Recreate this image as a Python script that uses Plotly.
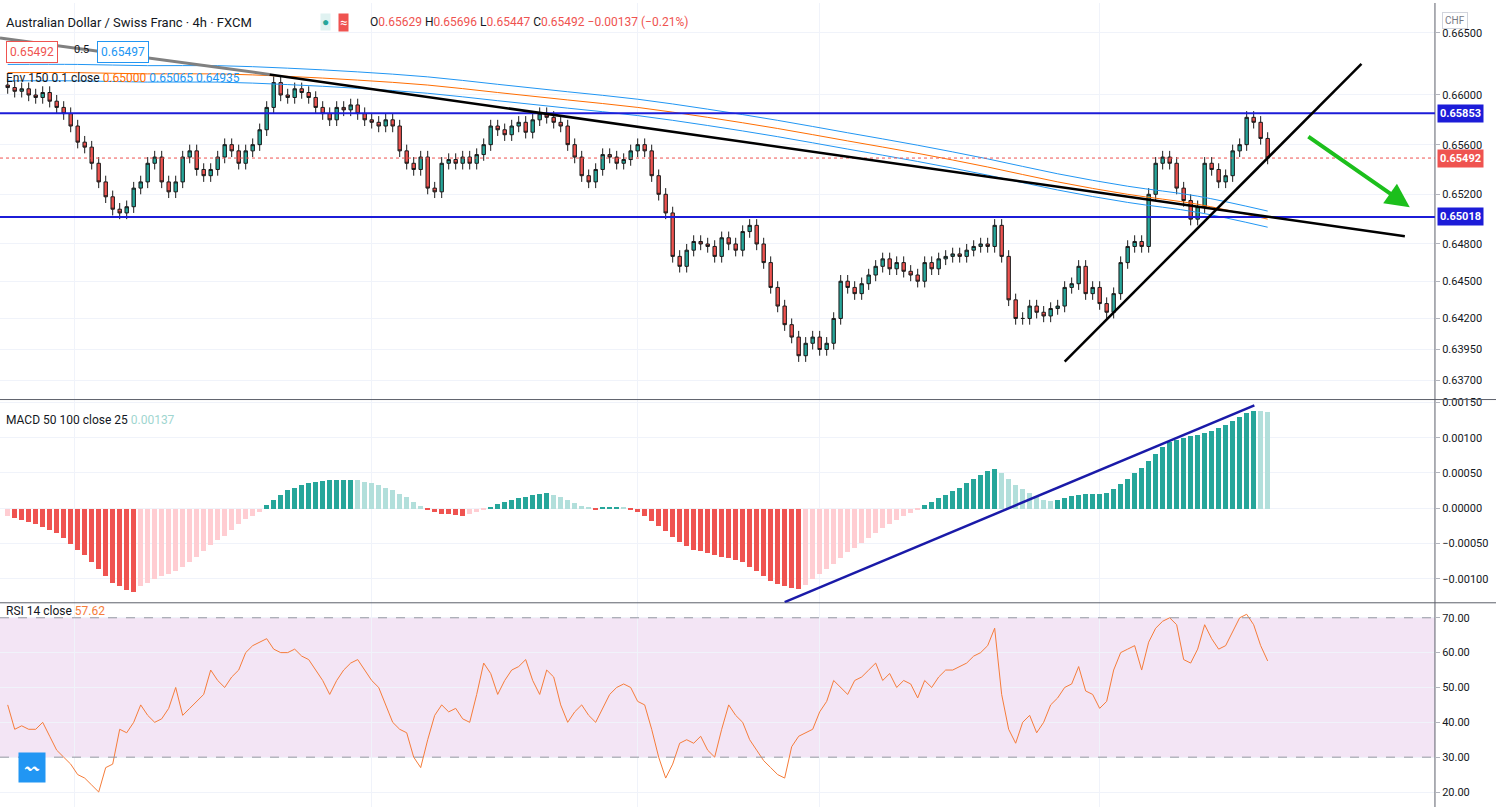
import plotly.graph_objects as go

# ---- data (4h AUD/CHF, FXCM) ----
closes = [
    0.6606, 0.6603, 0.6605, 0.6600, 0.6598, 0.6602, 0.6595, 0.6590, 0.6585, 0.6575,
    0.6562, 0.6558, 0.6545, 0.6530, 0.6518, 0.6508, 0.6505, 0.6510, 0.6525, 0.6530,
    0.6545, 0.6550, 0.6530, 0.6522, 0.6530, 0.6550, 0.6555, 0.6540, 0.6535, 0.6540,
    0.6550, 0.6560, 0.6555, 0.6545, 0.6555, 0.6560, 0.6572, 0.6590, 0.6610, 0.6600,
    0.6598, 0.6605, 0.6602, 0.6598, 0.6590, 0.6585, 0.6580, 0.6590, 0.6588, 0.6592,
    0.6585, 0.6580, 0.6578, 0.6575, 0.6580, 0.6575, 0.6555, 0.6545, 0.6540, 0.6550,
    0.6525, 0.6522, 0.6545, 0.6548, 0.6545, 0.6550, 0.6545, 0.6552, 0.6560, 0.6575,
    0.6572, 0.6568, 0.6575, 0.6578, 0.6570, 0.6580, 0.6585, 0.6582, 0.6578, 0.6575,
    0.6560, 0.6550, 0.6535, 0.6530, 0.6540, 0.6552, 0.6550, 0.6545, 0.6548, 0.6555,
    0.6560, 0.6555, 0.6535, 0.6520, 0.6505, 0.6470, 0.6462, 0.6475, 0.6482, 0.6480,
    0.6478, 0.6470, 0.6485, 0.6480, 0.6475, 0.6490, 0.6495, 0.6480, 0.6465, 0.6445,
    0.6430, 0.6415, 0.6405, 0.6390, 0.6400, 0.6405, 0.6395, 0.6400, 0.6420, 0.6450,
    0.6445, 0.6440, 0.6448, 0.6455, 0.6462, 0.6468, 0.6460, 0.6465, 0.6458, 0.6455,
    0.6450, 0.6465, 0.6460, 0.6468, 0.6470, 0.6472, 0.6470, 0.6475, 0.6478, 0.6480,
    0.6478, 0.6495, 0.6470, 0.6435, 0.6420, 0.6420, 0.6430, 0.6425, 0.6422, 0.6428,
    0.6430, 0.6445, 0.6448, 0.6462, 0.6440, 0.6445, 0.6432, 0.6425, 0.6440, 0.6465,
    0.6478, 0.6482, 0.6478, 0.6520, 0.6545, 0.6550, 0.6545, 0.6525, 0.6515, 0.6500,
    0.6510, 0.6545, 0.6540, 0.6530, 0.6535, 0.6555, 0.6560, 0.6582, 0.6578, 0.6565,
    0.65492,
]
first_open = 0.6608
wick = 0.0005

ema_idx = [0, 10, 20, 30, 40, 50, 60, 70, 80, 90, 100, 110, 120, 130, 140, 150, 160, 170, 180]
ema_vals = [0.6618, 0.6618, 0.6617, 0.6617, 0.6615, 0.6612, 0.6608, 0.6602, 0.6596, 0.6590,
            0.6582, 0.6573, 0.6563, 0.6553, 0.6542, 0.6530, 0.6520, 0.6512, 0.6500]

macd_hist = [
    -0.00010, -0.00013, -0.00016, -0.00019, -0.00022, -0.00026, -0.00030, -0.00035, -0.00042, -0.00050,
    -0.00058, -0.00066, -0.00075, -0.00085, -0.00095, -0.00105, -0.00110, -0.00115, -0.00118, -0.00110,
    -0.00105, -0.00100, -0.00095, -0.00092, -0.00088, -0.00082, -0.00075, -0.00068, -0.00060, -0.00052,
    -0.00045, -0.00038, -0.00030, -0.00022, -0.00015, -0.00010, -0.00005, 0.00005, 0.00012, 0.00020,
    0.00026, 0.00030, 0.00034, 0.00036, 0.00038, 0.00039, 0.00040, 0.00040, 0.00041, 0.00041,
    0.00040, 0.00038, 0.00036, 0.00033, 0.00030, 0.00026, 0.00021, 0.00016, 0.00010, 0.00004,
    -0.00002, -0.00005, -0.00007, -0.00008, -0.00009, -0.00010, -0.00008, -0.00004, -0.00001, 0.00003,
    0.00006, 0.00009, 0.00012, 0.00015, 0.00017, 0.00019, 0.00021, 0.00022, 0.00020, 0.00016,
    0.00012, 0.00008, 0.00004, 0.00001, -0.00001, 0.00001, 0.00002, 0.00003, 0.00001, -0.00002,
    -0.00005, -0.00010, -0.00018, -0.00025, -0.00032, -0.00040, -0.00047, -0.00053, -0.00058, -0.00060,
    -0.00063, -0.00066, -0.00068, -0.00070, -0.00072, -0.00076, -0.00082, -0.00088, -0.00095, -0.00102,
    -0.00107, -0.00110, -0.00112, -0.00114, -0.00108, -0.00100, -0.00092, -0.00085, -0.00078, -0.00070,
    -0.00062, -0.00055, -0.00048, -0.00041, -0.00035, -0.00028, -0.00022, -0.00016, -0.00010, -0.00006,
    -0.00002, 0.00005, 0.00010, 0.00015, 0.00020, 0.00025, 0.00030, 0.00036, 0.00042, 0.00048,
    0.00053, 0.00056, 0.00050, 0.00042, 0.00034, 0.00028, 0.00022, 0.00017, 0.00013, 0.00011,
    0.00012, 0.00015, 0.00018, 0.00020, 0.00021, 0.00021, 0.00021, 0.00022, 0.00028, 0.00035,
    0.00042, 0.00050, 0.00058, 0.00068, 0.00078, 0.00088, 0.00095, 0.00098, 0.00100, 0.00103,
    0.00105, 0.00107, 0.00110, 0.00114, 0.00118, 0.00124, 0.00130, 0.00135, 0.00139, 0.00138,
    0.00137,
]

rsi = [
    45, 38, 39, 38, 38, 40, 36, 32, 30, 28,
    25, 24, 22, 20, 27, 28, 38, 37, 40, 45,
    42, 40, 41, 44, 50, 42, 44, 46, 48, 55,
    52, 50, 53, 55, 60, 62, 63, 64, 61, 60,
    60, 61, 59, 58, 55, 52, 48, 52, 55, 57,
    58, 55, 52, 50, 45, 40, 38, 37, 30, 27,
    35, 42, 45, 43, 44, 41, 40, 48, 57, 54,
    48, 52, 55, 56, 58, 52, 48, 55, 53, 45,
    40, 43, 45, 42, 40, 44, 48, 50, 51, 50,
    46, 45, 38, 30, 24, 28, 34, 35, 34, 36,
    32, 30, 38, 45, 42, 40, 35, 32, 29, 27,
    25, 24, 33, 36, 37, 38, 43, 46, 52, 50,
    48, 52, 53, 55, 57, 52, 54, 50, 52, 51,
    47, 52, 50, 53, 55, 55, 56, 57, 59, 60,
    62, 67, 48, 38, 34, 40, 42, 37, 40, 45,
    47, 50, 51, 56, 49, 48, 44, 46, 55, 60,
    61, 62, 55, 63, 67, 69, 70, 68, 58, 57,
    61, 68, 64, 61, 62, 66, 70, 71, 68, 62,
    57.62,
]

levels = [0.65853, 0.65018]
last_price = 0.65492
price_ticks = [0.66500, 0.66000, 0.65600, 0.65200, 0.64800, 0.64500, 0.64200, 0.63950, 0.63700]
macd_ticks = [0.0015, 0.0010, 0.0005, 0.0, -0.0005, -0.0010]
rsi_ticks = [70, 60, 50, 40, 30, 20]

# ---- derived series ----
idx = list(range(len(closes)))
opens = [first_open] + closes[:-1]
highs = [max(o, c) + wick for o, c in zip(opens, closes)]
lows = [min(o, c) - wick for o, c in zip(opens, closes)]

GREEN, LGREEN, RED, PINK = '#26a69a', '#b2dfdb', '#ef5350', '#ffcdd2'
hist_cols = []
for i, v in enumerate(macd_hist):
    prev = macd_hist[i - 1] if i else v
    if v >= 0:
        hist_cols.append(GREEN if v >= prev else LGREEN)
    else:
        hist_cols.append(PINK if v >= prev else RED)

fig = go.Figure()

# price pane
fig.add_trace(go.Scatter(x=ema_idx, y=[v * 1.001 for v in ema_vals], mode='lines', line=dict(color='#2196f3', width=1, shape='spline'), yaxis='y'))
fig.add_trace(go.Scatter(x=ema_idx, y=[v * 0.999 for v in ema_vals], mode='lines', line=dict(color='#2196f3', width=1, shape='spline'), yaxis='y'))
fig.add_trace(go.Scatter(x=ema_idx, y=ema_vals, mode='lines', line=dict(color='#ff6d00', width=1, shape='spline'), yaxis='y'))
fig.add_trace(go.Candlestick(
    x=idx, open=opens, high=highs, low=lows, close=closes, yaxis='y',
    increasing=dict(fillcolor=GREEN, line=dict(color='#1b1b1b', width=1)),
    decreasing=dict(fillcolor=RED, line=dict(color='#1b1b1b', width=1)),
    whiskerwidth=0,
))

# MACD pane
fig.add_trace(go.Bar(x=idx, y=macd_hist, marker=dict(color=hist_cols, line=dict(width=0)), yaxis='y2', width=0.75))

# RSI pane
fig.add_trace(go.Scatter(x=idx, y=rsi, mode='lines', line=dict(color='#f57c3a', width=1), yaxis='y3'))

XR = [-1.1, 203.9]
XD = [0, 0.9592]
axis_font = dict(family='Roboto, Arial', size=11, color='#131722')
fig.update_layout(
    width=1496, height=807, margin=dict(l=0, r=0, t=0, b=0),
    paper_bgcolor='white', plot_bgcolor='white', showlegend=False,
    bargap=0,
    xaxis=dict(domain=XD, range=XR, showticklabels=False, showgrid=True, gridcolor='#f0f3fa',
               tickvals=[9.6, 52, 90, 116, 156], zeroline=False, rangeslider=dict(visible=False), anchor='y3'),
    yaxis=dict(domain=[0.5068, 1], range=[0.63547, 0.66741], side='right', tickvals=price_ticks,
               tickformat='.5f', gridcolor='#f0f3fa', tickfont=axis_font, zeroline=False, anchor='x', ticks='outside', ticklen=4, tickcolor='#b2b5be'),
    yaxis2=dict(domain=[0.254, 0.5068], range=[-0.00134, 0.00154], side='right', tickvals=macd_ticks,
                tickformat='.5f', gridcolor='#f0f3fa', tickfont=axis_font, zeroline=False, anchor='x', ticks='outside', ticklen=4, tickcolor='#b2b5be'),
    yaxis3=dict(domain=[0, 0.254], range=[15.7, 74.3], side='right', tickvals=rsi_ticks,
                tickformat='.2f', gridcolor='#f0f3fa', tickfont=axis_font, zeroline=False, anchor='x', ticks='outside', ticklen=4, tickcolor='#b2b5be'),
)

shapes = []
# pane separators and right border
for yp in [0.5068, 0.254]:
    shapes.append(dict(type='line', xref='paper', yref='paper', x0=0, x1=1, y0=yp, y1=yp, line=dict(color='#5d606b', width=1)))
shapes.append(dict(type='line', xref='paper', yref='paper', x0=0.9592, x1=0.9592, y0=0, y1=1, line=dict(color='#5d606b', width=1)))
# RSI band
shapes.append(dict(type='rect', xref='x', yref='y3', x0=XR[0], x1=XR[1], y0=30, y1=70, fillcolor='rgba(156,39,176,0.12)', line=dict(width=0), layer='below'))
for lv in [70, 30]:
    shapes.append(dict(type='line', xref='x', yref='y3', x0=XR[0], x1=XR[1], y0=lv, y1=lv, line=dict(color='#9598a1', width=1, dash='dash')))
# horizontal levels
for lv in levels:
    shapes.append(dict(type='line', xref='x', yref='y', x0=XR[0], x1=XR[1], y0=lv, y1=lv, line=dict(color='#1c1cd8', width=2)))
shapes.append(dict(type='line', xref='x', yref='y', x0=XR[0], x1=XR[1], y0=last_price, y1=last_price, line=dict(color='#ef5350', width=1, dash='dot')))
# trendlines
shapes.append(dict(type='line', xref='x', yref='y', x0=-1.1, y0=0.6646, x1=37.4, y1=0.66166, line=dict(color='#808080', width=3)))
shapes.append(dict(type='line', xref='x', yref='y', x0=37.4, y0=0.66166, x1=199.6, y1=0.64863, line=dict(color='black', width=2.5)))
shapes.append(dict(type='line', xref='x', yref='y', x0=151, y0=0.63852, x1=193.4, y1=0.66251, line=dict(color='black', width=2.5)))
shapes.append(dict(type='line', xref='x', yref='y2', x0=111, y0=-0.00133, x1=178.1, y1=0.001457, line=dict(color='#1a1aa8', width=2.5)))
fig.update_layout(shapes=shapes)

ann = []
# green arrow
ann.append(dict(x=200.3, y=0.65096, ax=185.6, ay=0.65673, xref='x', yref='y', axref='x', ayref='y',
                showarrow=True, arrowhead=2, arrowsize=1.2, arrowwidth=4, arrowcolor='#1cbf1c', text=''))
# price labels on right scale
for lv, col in [(levels[0], '#1c1cd8'), (last_price, '#ef5350'), (levels[1], '#1c1cd8')]:
    ann.append(dict(x=0.9605, y=lv, xref='paper', yref='y', xanchor='left', text=f'<b>{lv:.5f}</b>', showarrow=False,
                    font=dict(family='Roboto, Arial', size=11, color='white'), bgcolor=col, borderpad=2))
ann.append(dict(x=0.981, y=0.989, xref='paper', yref='paper', text='CHF', showarrow=False,
                font=dict(family='Roboto, Arial', size=10, color='#787b86'), bordercolor='#d1d4dc', borderwidth=1, borderpad=2))

hf = dict(family='Roboto, Arial', size=13, color='#131722')
ann.append(dict(x=0.003, y=0.987, xref='paper', yref='paper', xanchor='left', showarrow=False, font=hf,
                text='Australian Dollar / Swiss Franc · 4h · FXCM'))
ann.append(dict(x=0.214, y=0.987, xref='paper', yref='paper', xanchor='left', showarrow=False,
                font=dict(family='Roboto, Arial', size=12, color='#26a69a'), text='●',
                bgcolor='#e0f2f1', borderpad=1))
ann.append(dict(x=0.226, y=0.987, xref='paper', yref='paper', xanchor='left', showarrow=False,
                font=dict(family='Roboto, Arial', size=13, color='white'), text='≈', bgcolor='#ef5350', borderpad=1))
ann.append(dict(x=0.246, y=0.987, xref='paper', yref='paper', xanchor='left', showarrow=False,
                font=dict(family='Roboto, Arial', size=12, color='#ef5350'),
                text='<span style="color:#131722">O</span>0.65629 <span style="color:#131722">H</span>0.65696 '
                     '<span style="color:#131722">L</span>0.65447 <span style="color:#131722">C</span>0.65492 −0.00137 (−0.21%)'))
ann.append(dict(x=0.004, y=0.953, xref='paper', yref='paper', xanchor='left', showarrow=False,
                font=dict(family='Roboto, Arial', size=12, color='#ef5350'), text='0.65492',
                bordercolor='#ef5350', borderwidth=1, borderpad=3, bgcolor='white'))
ann.append(dict(x=0.048, y=0.953, xref='paper', yref='paper', xanchor='left', showarrow=False,
                font=dict(family='Roboto, Arial', size=11, color='#131722'), text='0.5'))
ann.append(dict(x=0.065, y=0.953, xref='paper', yref='paper', xanchor='left', showarrow=False,
                font=dict(family='Roboto, Arial', size=12, color='#2196f3'), text='0.65497',
                bordercolor='#2196f3', borderwidth=1, borderpad=3, bgcolor='white'))
ann.append(dict(x=0.003, y=0.918, xref='paper', yref='paper', xanchor='left', showarrow=False,
                font=dict(family='Roboto, Arial', size=12, color='#131722'),
                text='Env 150 0.1 close <span style="color:#ff6d00">0.65000</span> '
                     '<span style="color:#2196f3">0.65065</span> <span style="color:#2196f3">0.64935</span>'))
ann.append(dict(x=0.003, y=0.481, xref='paper', yref='paper', xanchor='left', showarrow=False,
                font=dict(family='Roboto, Arial', size=12, color='#131722'),
                text='MACD 50 100 close 25 <span style="color:#9fd6d0">0.00137</span>'))
ann.append(dict(x=0.003, y=0.232, xref='paper', yref='paper', xanchor='left', showarrow=False,
                font=dict(family='Roboto, Arial', size=12, color='#131722'),
                text='RSI 14 close <span style="color:#f57c3a">57.62</span>'))
ann.append(dict(x=0.012, y=0.03, xref='paper', yref='paper', showarrow=False, text='〰',
                font=dict(size=14, color='white'), bgcolor='#2196f3', borderpad=5))
fig.update_layout(annotations=ann)

fig.write_html("out.html", config={'displayModeBar': False},
               post_script="document.body.style.margin='0';document.body.style.overflow='hidden';")
